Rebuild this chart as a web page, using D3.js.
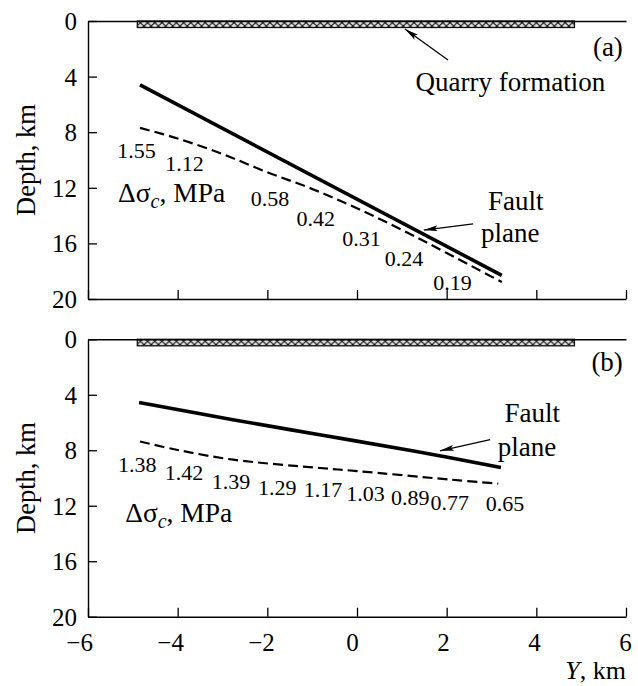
<!DOCTYPE html>
<html><head><meta charset="utf-8">
<script src="https://cdn.jsdelivr.net/npm/d3@7"></script>
<style>
html,body{margin:0;padding:0;background:#fff;}
text{font-family:"Liberation Serif","Times New Roman",serif;fill:#000;}
</style></head>
<body>
<svg id="c" width="638" height="686"></svg>
<script>
// ---------- data ----------
const xTicks = [-6, -4, -2, 0, 2, 4, 6];
const yTicks = [0, 4, 8, 12, 16, 20];
const quarryExtent = [-4.9, 4.85];

// panel (a)
const faultA_Y = [-4.84, 3.23];
const faultA_D = [4.6, 18.3];
const stressA_Y = [-4.84, -4, -3, -2, -1, 0, 1, 2, 3.23];
const stressA_D = [7.69, 8.45, 9.57, 10.88, 12.08, 13.47, 15.02, 16.69, 18.78];
const stressA_vals = ["1.55", "1.12", "0.58", "0.42", "0.31", "0.24", "0.19"];
const stressA_lblY = [-4.92, -3.85, -1.94, -0.92, 0.1, 1.05, 2.13];
const stressA_lblD = [9.28, 10.22, 12.73, 14.2, 15.6, 17.1, 18.8];

// panel (b)
const faultB_Y = [-4.86, -2.8, -0.8, 1.2, 3.21];
const faultB_D = [4.56, 5.78, 6.9, 8.02, 9.24];
const stressB_Y = [-4.84, -4.0, -2.76, -0.82, 0, 2.1, 3.15];
const stressB_D = [7.37, 7.98, 8.68, 9.28, 9.5, 10.12, 10.41];
const stressB_vals = ["1.38", "1.42", "1.39", "1.29", "1.17", "1.03", "0.89", "0.77", "0.65"];
const stressB_lblY = [-4.9, -3.86, -2.81, -1.78, -0.76, 0.19, 1.19, 2.07, 3.3];
const stressB_lblD = [9.04, 9.62, 10.27, 10.7, 10.84, 11.13, 11.42, 11.78, 11.85];

// ---------- layout ----------
const svg = d3.select("#c");
svg.append("rect").attr("width", 638).attr("height", 686).attr("fill", "#fff");
const x = d3.scaleLinear().domain([-6, 6]).range([88, 626]);

const defs = svg.append("defs");
const pat = defs.append("pattern").attr("id", "hatch").attr("patternUnits", "userSpaceOnUse")
  .attr("width", 7.2).attr("height", 6.5);
pat.append("rect").attr("width", 7.2).attr("height", 6.5).attr("fill", "#e0e0e0");
pat.append("path").attr("d", "M0,0 L7.2,6.5 M7.2,0 L0,6.5").attr("stroke", "#111").attr("stroke-width", 1.1);
defs.append("marker").attr("id", "arr").attr("viewBox", "0 0 14 6").attr("refX", 14).attr("refY", 3)
  .attr("markerWidth", 14).attr("markerHeight", 6).attr("markerUnits", "userSpaceOnUse").attr("orient", "auto")
  .append("path").attr("d", "M0,0 L14,3 L0,6 L3,3 Z").attr("fill", "#000");

function panel(cfg) {
  const y = d3.scaleLinear().domain([0, 20]).range(cfg.range);
  const g = svg.append("g");
  // hatched quarry bar
  g.append("rect").attr("x", x(quarryExtent[0])).attr("y", y(0))
    .attr("width", x(quarryExtent[1]) - x(quarryExtent[0])).attr("height", 6.5)
    .attr("fill", "url(#hatch)").attr("stroke", "#111").attr("stroke-width", 1.3);
  // axes
  const ax = d3.axisBottom(x).tickValues(xTicks).tickSizeInner(-9).tickSizeOuter(0).tickFormat(cfg.xlabels ? (d => d < 0 ? "\u2212" + Math.abs(d) : d) : "");
  const xa = g.append("g").attr("transform", `translate(0,${y(20)})`).call(ax);
  const ayL = d3.axisLeft(y).tickValues(yTicks).tickSizeInner(-9).tickSizeOuter(0);
  const ya = g.append("g").attr("transform", `translate(${x(-6)},0)`).call(ayL);
  const top = d3.axisTop(x).tickValues([]).tickSizeOuter(0);
  g.append("g").attr("transform", `translate(0,${y(0)})`).call(top);
  g.selectAll("path.domain").attr("stroke", "#000").attr("stroke-width", 1.4);
  g.selectAll(".tick line").attr("stroke", "#000").attr("stroke-width", 1.3);
  ya.selectAll(".tick text").attr("x", -11).attr("font-size", 25).attr("dy", "0.34em");
  xa.selectAll(".tick text").attr("font-size", 25).attr("y", 17).attr("dx", d => (-5 + 0.65 * d));
  // lines
  const line = d3.line().x(d => x(d[0])).y(d => y(d[1])).curve(d3.curveCatmullRom.alpha(0.5));
  g.append("path").datum(cfg.fY.map((v, i) => [v, cfg.fD[i]])).attr("d", line)
    .attr("fill", "none").attr("stroke", "#000").attr("stroke-width", 3.6);
  g.append("path").datum(cfg.sY.map((v, i) => [v, cfg.sD[i]])).attr("d", line)
    .attr("fill", "none").attr("stroke", "#000").attr("stroke-width", 2.2).attr("stroke-dasharray", "10,5");
  // value labels
  cfg.vals.forEach((v, i) => {
    g.append("text").attr("x", x(cfg.lY[i])).attr("y", y(cfg.lD[i])).attr("dy", "0.35em")
      .attr("text-anchor", "middle").attr("font-size", 22).text(v);
  });
  // delta sigma label
  const t = g.append("text").attr("x", x(cfg.dsPos[0])).attr("y", y(cfg.dsPos[1])).attr("dy", "0.35em").attr("font-size", 27.5);
  t.append("tspan").text("\u0394\u03c3");
  t.append("tspan").attr("font-style", "italic").attr("font-size", 20).attr("dy", "0.3em").text("c");
  t.append("tspan").attr("dy", "-0.22em").text(", MPa");
  // fault plane label
  g.append("text").attr("x", x(cfg.faultLbl[0])).attr("y", y(cfg.faultLbl[1])).attr("dy", "0.35em")
    .attr("text-anchor", "middle").attr("font-size", 27).text("Fault");
  g.append("text").attr("x", x(cfg.planeLbl[0])).attr("y", y(cfg.planeLbl[1])).attr("dy", "0.35em")
    .attr("text-anchor", "middle").attr("font-size", 27).text("plane");
  g.append("line").attr("x1", x(cfg.fArrow[0])).attr("y1", y(cfg.fArrow[1]))
    .attr("x2", x(cfg.fArrow[2])).attr("y2", y(cfg.fArrow[3]))
    .attr("stroke", "#000").attr("stroke-width", 1.3).attr("marker-end", "url(#arr)");
  // panel letter
  g.append("text").attr("x", x(5.93)).attr("y", y(cfg.letterD)).attr("dy", "0.35em")
    .attr("text-anchor", "end").attr("font-size", 27).text(cfg.letter);
  // y title
  g.append("text").attr("transform", `translate(26,${(cfg.range[0] + cfg.range[1]) / 2}) rotate(-90)`)
    .attr("dy", "0.35em").attr("text-anchor", "middle").attr("font-size", 26.5).text("Depth, km");
  return {g, y};
}

const pa = panel({range: [21, 299], xlabels: false, fY: faultA_Y, fD: faultA_D, sY: stressA_Y, sD: stressA_D,
  vals: stressA_vals, lY: stressA_lblY, lD: stressA_lblD, dsPos: [-5.33, 12.3],
  faultLbl: [3.54, 12.9], planeLbl: [3.42, 15.2], fArrow: [2.59, 14.6, 1.49, 15.04], letter: "(a)", letterD: 1.87});
// quarry label (a)
pa.g.append("text").attr("x", x(3.42)).attr("y", pa.y(4.39)).attr("dy", "0.35em").attr("text-anchor", "middle")
  .attr("font-size", 27).text("Quarry formation");
pa.g.append("line").attr("x1", x(2.03)).attr("y1", pa.y(2.81)).attr("x2", x(1.07)).attr("y2", pa.y(0.58))
  .attr("stroke", "#000").attr("stroke-width", 1.3).attr("marker-end", "url(#arr)");

const pb = panel({range: [339.3, 616.7], xlabels: true, fY: faultB_Y, fD: faultB_D, sY: stressB_Y, sD: stressB_D,
  vals: stressB_vals, lY: stressB_lblY, lD: stressB_lblD, dsPos: [-5.17, 12.5],
  faultLbl: [3.91, 5.3], planeLbl: [3.79, 7.75], fArrow: [2.97, 7.24, 1.85, 8.04], letter: "(b)", letterD: 1.63});

// x title
const xt = svg.append("text").attr("x", x(6)).attr("y", 670).attr("dy", "0.35em").attr("text-anchor", "end").attr("font-size", 26);
xt.append("tspan").attr("font-style", "italic").text("Y");
xt.append("tspan").text(", km");
</script>
</body></html>
